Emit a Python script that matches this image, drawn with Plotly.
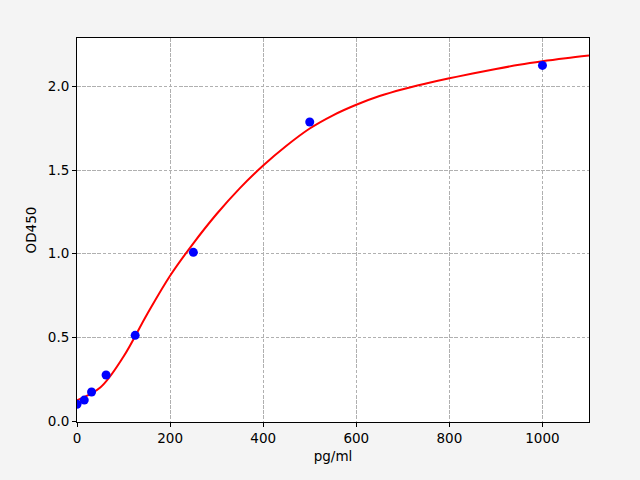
import plotly.graph_objects as go

# Measured standards
conc = [0, 15.6, 31.25, 62.5, 125, 250, 500, 1000]
od = [0.10, 0.125, 0.173, 0.275, 0.512, 1.008, 1.787, 2.125]

# Fitted curve, every 50 pg/ml
curve_x = [0, 50, 100, 150, 200, 250, 300, 350, 400, 450, 500, 550,
           600, 650, 700, 750, 800, 850, 900, 950, 1000, 1050, 1100]
curve_y = [0.124, 0.200, 0.385, 0.635, 0.868, 1.062, 1.237, 1.392, 1.527, 1.645, 1.748, 1.827,
           1.890, 1.942, 1.983, 2.017, 2.048, 2.077, 2.104, 2.129, 2.150, 2.168, 2.184]

x_ticks = [0, 200, 400, 600, 800, 1000]
y_ticks = [0.0, 0.5, 1.0, 1.5, 2.0]

font = dict(family="DejaVu Sans", size=13.5, color="black")

fig = go.Figure()
fig.add_trace(go.Scatter(x=curve_x, y=curve_y, mode="lines",
                         line=dict(color="red", width=2, shape="spline", smoothing=1.0),
                         showlegend=False, hoverinfo="skip"))
fig.add_trace(go.Scatter(x=conc, y=od, mode="markers",
                         marker=dict(color="blue", size=9, line=dict(width=0)),
                         showlegend=False))

axis_common = dict(showline=True, linecolor="black", linewidth=1, mirror=True,
                   ticks="outside", ticklen=4, tickwidth=1, tickcolor="black",
                   showgrid=True, gridcolor="#b0b0b0", griddash="3.5px,1.6px", gridwidth=1,
                   zeroline=False, tickfont=font)

fig.update_xaxes(range=[0, 1100], tickvals=x_ticks, ticktext=[str(v) for v in x_ticks],
                 title=dict(text="pg/ml", font=font, standoff=6), **axis_common)
fig.update_yaxes(range=[-0.006, 2.289], tickvals=y_ticks, ticktext=[f"{v:.1f}" for v in y_ticks],
                 title=dict(text="OD450", font=font, standoff=8), **axis_common)

fig.update_layout(width=640, height=480, autosize=False,
                  margin=dict(l=77, r=51, t=38, b=58),
                  paper_bgcolor="#f4f4f4", plot_bgcolor="white",
                  font=font)

fig.write_html("out.html", config={"displayModeBar": False},
               post_script="document.body.style.margin='0';document.body.style.padding='0';"
                           "document.body.style.overflow='hidden';"
                           "document.body.style.background='#f4f4f4';")
